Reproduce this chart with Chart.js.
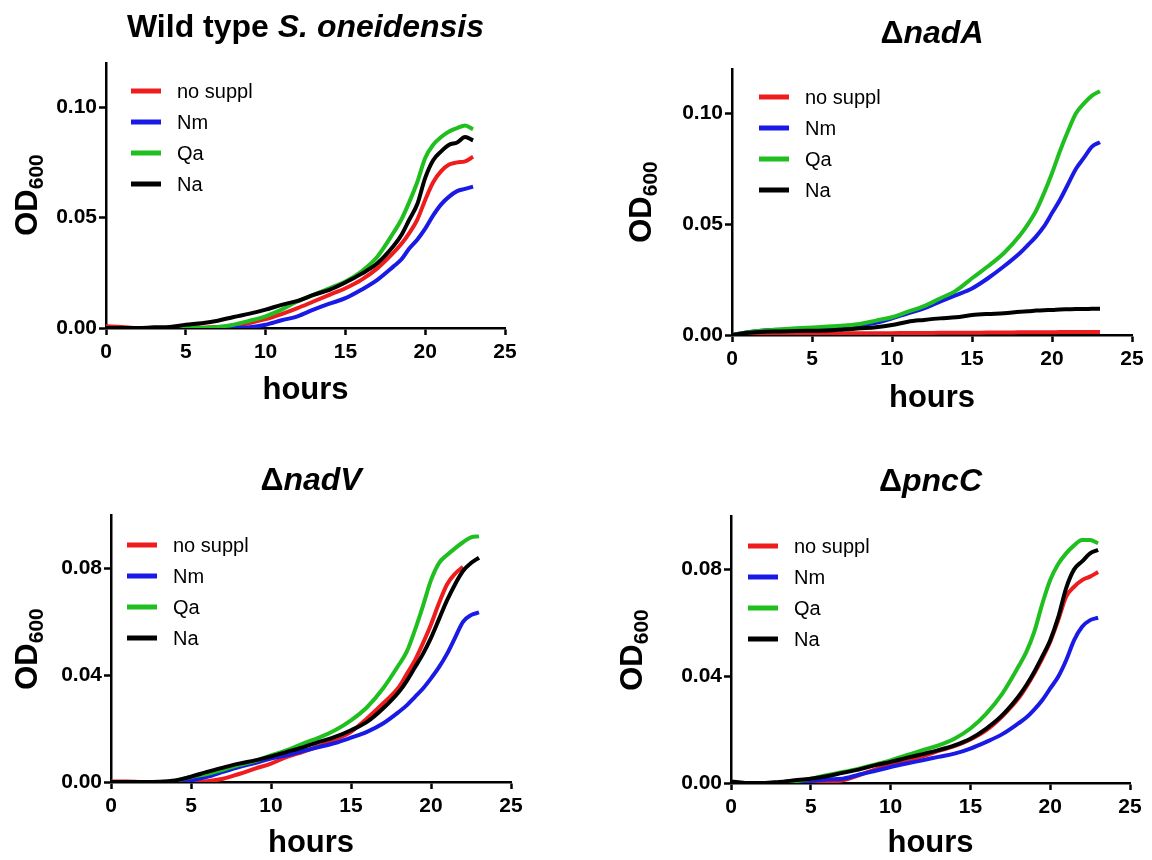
<!DOCTYPE html>
<html><head><meta charset="utf-8">
<script src="https://cdn.jsdelivr.net/npm/chart.js@4.4.1/dist/chart.umd.min.js"></script>
<style>
html,body{margin:0;padding:0;background:#fff;}
#wrap{position:relative;width:1152px;height:860px;background:#fff;}
.cell{position:absolute;width:576px;height:430px;}
canvas{display:block;}
</style></head><body>
<div id="wrap">
<div class="cell" style="left:0;top:0"><canvas id="c0" width="576" height="430"></canvas></div>
<div class="cell" style="left:576px;top:0"><canvas id="c1" width="576" height="430"></canvas></div>
<div class="cell" style="left:0;top:430px"><canvas id="c2" width="576" height="430"></canvas></div>
<div class="cell" style="left:576px;top:430px"><canvas id="c3" width="576" height="430"></canvas></div>
</div>
<script>
// ---------- data ----------
const hours = [0,1,2,3,4,5,6,7,8,9,10,11,12,13,14,15,16,17,18,18.5,19,19.5,20,20.5,21,21.5,22,22.5,23];
const seriesNames = ['no suppl','Nm','Qa','Na'];
const xTicks = [0,5,10,15,20,25];
const yTicksTop = [0,0.05,0.10];
const yTicksBottom = [0,0.04,0.08];

// Wild type S. oneidensis
const wtNoSuppl = [.0008,.0005,0,0,0,0,.0001,.0004,.001,.0023,.004,.0063,.009,.012,.015,.018,.0218,.027,.034,.038,.043,.049,.058,.066,.071,.074,.075,.0755,.0775];
const wtNm      = [0,0,0,0,0,0,0,0,0,.0003,.0015,.0035,.0053,.0083,.011,.0135,.0173,.0218,.0278,.031,.036,.040,.045,.051,.056,.0595,.062,.063,.064];
const wtQa      = [0,0,0,0,0,0,0,.0005,.0015,.0033,.0053,.0083,.012,.015,.018,.021,.0256,.0323,.043,.049,.057,.066,.077,.083,.0865,.089,.0905,.0917,.090];
const wtNa      = [0,0,0,.0003,.0005,.0015,.0022,.0033,.005,.0065,.0083,.0105,.0123,.015,.0173,.0206,.0245,.0293,.037,.042,.049,.056,.068,.076,.080,.083,.084,.0865,.085];

// delta nadA
const nadANoSuppl = [0,.0003,.0005,.0005,.0005,.0005,.0006,.0007,.0008,.0008,.0008,.0009,.0009,.001,.001,.001,.0011,.0011,.0012,.0012,.0012,.0012,.0012,.0013,.0013,.0013,.0013,.0013,.0013];
const nadANm      = [0,.0012,.002,.0024,.0027,.003,.0033,.0038,.0045,.0055,.0075,.0098,.012,.015,.018,.021,.0256,.031,.037,.0406,.0444,.049,.055,.061,.068,.075,.080,.085,.087];
const nadAQa      = [0,.0012,.002,.0025,.003,.0034,.0038,.0043,.005,.0065,.008,.0105,.013,.0165,.020,.0256,.031,.037,.045,.050,.056,.064,.073,.083,.092,.100,.1045,.108,.110];
const nadANa      = [0,.001,.0015,.0016,.0018,.0019,.002,.0025,.003,.0035,.0045,.006,.0068,.0075,.008,.009,.0095,.0098,.0105,.0107,.011,.0112,.0113,.0115,.0116,.0117,.0117,.0118,.0118];

// delta nadV
const nadVNoSuppl = [.0002,.0002,0,0,0,0,.0003,.0012,.003,.005,.0069,.0094,.0113,.0134,.0159,.0188,.0238,.0294,.0356,.0406,.0456,.052,.059,.067,.074,.078,.0806,null,null];
const nadVNm      = [0,0,0,0,.0002,.0006,.0019,.0038,.0056,.0071,.0088,.010,.0116,.0131,.0146,.0166,.0188,.0219,.0263,.0288,.0319,.035,.0388,.043,.048,.054,.060,.0625,.0635];
const nadVQa      = [0,0,0,0,.0004,.0019,.003,.0046,.0063,.0078,.010,.0119,.0144,.0166,.0194,.0231,.028,.035,.044,.049,.057,.066,.0756,.082,.085,.0875,.0898,.0916,.092];
const nadVNa      = [0,0,0,.0001,.0006,.002,.0038,.0054,.0069,.0081,.0096,.0113,.013,.015,.0169,.0194,.0225,.0275,.0338,.038,.043,.048,.054,.061,.068,.074,.079,.082,.084];

// delta pncC
const pncCNoSuppl = [0,0,0,0,0,.0003,.0005,.001,.0029,.005,.0069,.0085,.010,.012,.0138,.0163,.0198,.025,.0316,.036,.041,.0466,.0529,.061,.0698,.0735,.076,.0773,.079];
const pncCNm      = [0,0,0,0,.0003,.0008,.0013,.0016,.0031,.0045,.006,.0073,.0085,.0098,.011,.0129,.0154,.0183,.0223,.0245,.0275,.031,.0354,.0398,.046,.0535,.0585,.061,.0619];
const pncCQa      = [.0005,0,0,.0002,.0006,.0016,.0029,.0041,.0054,.0069,.0085,.0104,.0123,.0141,.0166,.0204,.026,.0335,.0435,.049,.0566,.067,.076,.082,.086,.089,.091,.091,.0898];
const pncCNa      = [.0006,0,0,.0004,.001,.0016,.0025,.0038,.005,.0066,.0079,.0094,.0108,.0123,.0141,.0166,.0204,.0254,.0323,.0366,.0416,.0473,.0535,.062,.073,.080,.083,.086,.0873];

// ---------- styles ----------
const seriesColors = ['#ee1c1c','#1a1ae6','#1fbf1f','#000000'];
const FONT = "'Liberation Sans', Arial, Helvetica, sans-serif";

const panels = [
  {canvas:'c0', title:[['Wild type ',false],['S. oneidensis',true]], yMax:0.12, yTicks:yTicksTop,
   series:[wtNoSuppl,wtNm,wtQa,wtNa],
   area:{left:106,top:63,right:505,bottom:328}, titleY:37, xTitleY:399, yTitleX:28, yTitleY:195, leg:{dx:25,dy:28}},
  {canvas:'c1', title:[['\u0394',false],['nadA',true]], yMax:0.12, yTicks:yTicksTop,
   series:[nadANoSuppl,nadANm,nadAQa,nadANa],
   area:{left:156,top:69,right:556,bottom:335}, titleY:43, xTitleY:407, yTitleX:66, yTitleY:202, leg:{dx:27,dy:28}},
  {canvas:'c2', title:[['\u0394',false],['nadV',true]], yMax:0.10, yTicks:yTicksBottom,
   series:[nadVNoSuppl,nadVNm,nadVQa,nadVNa],
   area:{left:111,top:85,right:511,bottom:352}, titleY:60, xTitleY:422, yTitleX:28, yTitleY:219, leg:{dx:16,dy:30}},
  {canvas:'c3', title:[['\u0394',false],['pncC',true]], yMax:0.10, yTicks:yTicksBottom,
   series:[pncCNoSuppl,pncCNm,pncCQa,pncCNa],
   area:{left:155,top:86,right:554,bottom:353}, titleY:61, xTitleY:422, yTitleX:57, yTitleY:220, leg:{dx:17,dy:30}}
];

const decorPlugin = {
  id: 'decor',
  afterDraw(chart, args, o) {
    const ctx = chart.ctx, ca = chart.chartArea;
    const cx = (ca.left + ca.right) / 2;
    ctx.save();
    ctx.fillStyle = '#000';
    // panel title (mixed upright / italic)
    ctx.textBaseline = 'alphabetic';
    ctx.textAlign = 'left';
    const fUp = "bold 32px " + FONT, fIt = "italic bold 32px " + FONT;
    let total = 0;
    o.title.forEach(([t, it]) => { ctx.font = it ? fIt : fUp; total += ctx.measureText(t).width; });
    let x = cx - total / 2;
    o.title.forEach(([t, it]) => { ctx.font = it ? fIt : fUp; ctx.fillText(t, x, o.titleY); x += ctx.measureText(t).width; });
    // x axis title
    ctx.font = "bold 31px " + FONT;
    ctx.textAlign = 'center';
    ctx.fillText('hours', cx, o.xTitleY);
    // y axis title OD600
    ctx.save();
    ctx.translate(o.yTitleX, o.yTitleY);
    ctx.rotate(-Math.PI / 2);
    ctx.textAlign = 'left';
    ctx.textBaseline = 'middle';
    const fMain = "bold 31px " + FONT, fSub = "bold 21px " + FONT;
    ctx.font = fMain; const w1 = ctx.measureText('OD').width;
    ctx.font = fSub; const w2 = ctx.measureText('600').width;
    const sx = -(w1 + w2) / 2;
    ctx.font = fMain; ctx.fillText('OD', sx, 0);
    ctx.font = fSub; ctx.fillText('600', sx + w1, 9);
    ctx.restore();
    // legend
    ctx.font = "20px " + FONT;
    ctx.textAlign = 'left';
    ctx.textBaseline = 'middle';
    chart.data.datasets.forEach((ds, i) => {
      const ly = ca.top + o.leg.dy + i * 31;
      const lx = ca.left + o.leg.dx;
      ctx.strokeStyle = ds.borderColor;
      ctx.lineWidth = 5;
      ctx.lineCap = 'butt';
      ctx.beginPath(); ctx.moveTo(lx, ly); ctx.lineTo(lx + 30, ly); ctx.stroke();
      ctx.fillStyle = '#000';
      ctx.fillText(ds.label, lx + 46, ly + 1);
    });
    ctx.restore();
  }
};

panels.forEach(p => {
  const datasets = p.series.map((vals, i) => ({
    label: seriesNames[i],
    data: hours.map((h, k) => ({x: h, y: vals[k]})),
    borderColor: seriesColors[i],
    backgroundColor: seriesColors[i],
    borderWidth: 4,
    pointRadius: 0,
    fill: false,
    tension: 0.3,
    cubicInterpolationMode: 'monotone',
    spanGaps: false,
    order: 4 - i
  }));
  const W = 576, H = 430;
  new Chart(document.getElementById(p.canvas), {
    type: 'line',
    data: { datasets },
    options: {
      responsive: false,
      animation: false,
      devicePixelRatio: 1,
      layout: { padding: { left: 0, bottom: 0, top: p.area.top, right: W - p.area.right } },
      plugins: {
        legend: { display: false },
        title: { display: false },
        tooltip: { enabled: false },
        decor: { title: p.title, titleY: p.titleY, xTitleY: p.xTitleY, yTitleX: p.yTitleX, yTitleY: p.yTitleY, leg: p.leg }
      },
      scales: {
        x: {
          type: 'linear', min: 0, max: 25,
          afterBuildTicks: s => { s.ticks = xTicks.map(v => ({value: v})); },
          afterFit: s => { s.height = H - p.area.bottom; },
          ticks: { autoSkip: false, maxRotation: 0, color: '#000', padding: 5,
                   font: { family: FONT, size: 21, weight: 'bold' }, callback: v => String(v) },
          grid: { display: true, drawOnChartArea: false, drawTicks: true, tickLength: 7, tickWidth: 2.5, tickColor: '#000' },
          border: { display: true, color: '#000', width: 2.5 },
          title: { display: false }
        },
        y: {
          type: 'linear', min: 0, max: p.yMax,
          afterBuildTicks: s => { s.ticks = p.yTicks.map(v => ({value: v})); },
          afterFit: s => { s.width = p.area.left; },
          ticks: { autoSkip: false, color: '#000', padding: 2,
                   font: { family: FONT, size: 21, weight: 'bold' }, callback: v => v.toFixed(2) },
          grid: { display: true, drawOnChartArea: false, drawTicks: true, tickLength: 7, tickWidth: 2.5, tickColor: '#000' },
          border: { display: true, color: '#000', width: 2.5 },
          title: { display: false }
        }
      }
    },
    plugins: [decorPlugin]
  });
});
</script>
</body></html>
